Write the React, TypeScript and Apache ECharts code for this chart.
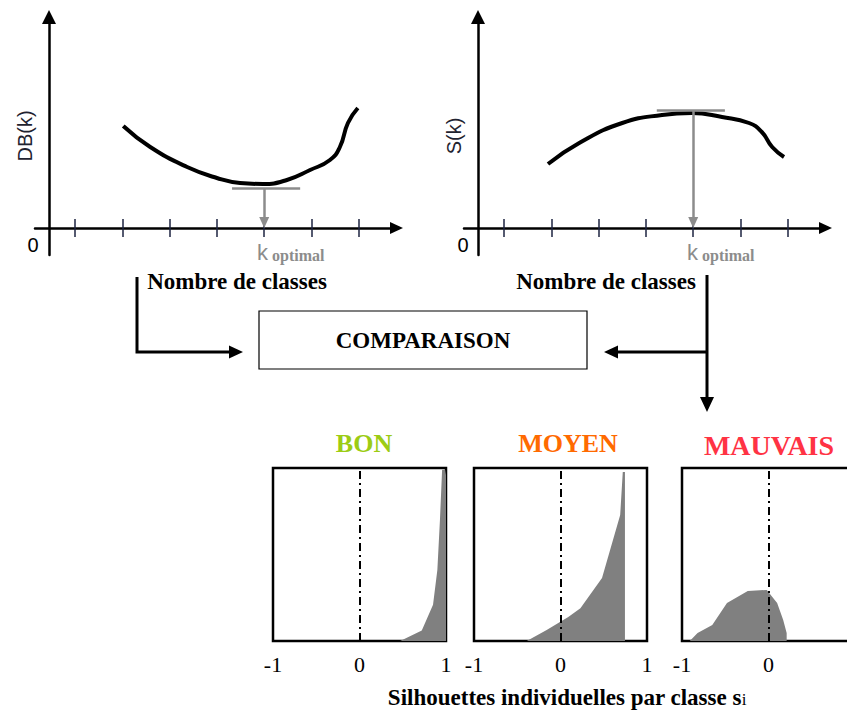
import React, { useEffect, useRef } from "react";
import * as echarts from "echarts";

// ---- Data ----
const kTicks = [1, 2, 3, 4, 5, 6, 7];
const kOptimal = 5;
const kRange = [0.154, 7.797];

const dbK = [2.02, 2.59, 3.37, 4.0, 4.49, 4.97, 5.48, 5.97, 6.39, 6.6, 6.77, 6.98];
const dbValues = [1.02, 0.81, 0.61, 0.5, 0.45, 0.44, 0.48, 0.58, 0.68, 0.81, 1.05, 1.2];
const dbGuideLevel = 0.4;
const dbGuideSpan = [4.32, 5.76];

const sK = [1.93, 2.59, 3.5, 4.34, 4.97, 5.61, 6.18, 6.45, 6.67, 6.92];
const sValues = [0.64, 0.85, 1.05, 1.13, 1.15, 1.11, 1.05, 0.96, 0.81, 0.71];
const sGuideLevel = 1.18;
const sGuideSpan = [4.23, 5.67];

const silTicks = [-1, 0, 1];
const bonS = [0.47, 0.72, 0.85, 0.9, 0.93, 0.955, 0.99, 1.0];
const bonF = [0, 0.06, 0.21, 0.41, 0.7, 0.99, 0.99, 0.96];
const moyenS = [-0.39, -0.16, 0.09, 0.23, 0.48, 0.69, 0.72, 0.745, 0.745];
const moyenF = [0, 0.064, 0.139, 0.19, 0.364, 0.728, 0.977, 0.977, 0];
const mauvaisS = [-0.91, -0.82, -0.65, -0.48, -0.24, -0.02, 0.1, 0.17, 0.21, 0.21];
const mauvaisF = [0, 0.046, 0.092, 0.22, 0.289, 0.295, 0.22, 0.121, 0.046, 0];

const SANS = "Liberation Sans";
const SERIF = "Liberation Serif";
const GRAY = "#8c8c8c";

function kAxes(gridIndex: number) {
  const common = {
    type: "value",
    gridIndex,
    min: kRange[0],
    max: kRange[1],
    splitLine: { show: false },
  };
  return [
    {
      ...common,
      position: "bottom",
      axisLine: {
        show: true,
        onZero: true,
        lineStyle: { color: "#000", width: 2.5 },
        symbol: ["none", "triangle"],
        symbolSize: [12, 13],
      },
      axisTick: {
        show: true,
        customValues: kTicks,
        length: 9,
        lineStyle: { color: "#1c2340", width: 1.5 },
      },
      axisLabel: { show: false },
    },
    {
      ...common,
      position: "top",
      offset: -211,
      axisLine: { show: false, onZero: false },
      axisTick: {
        show: true,
        customValues: kTicks,
        length: 9,
        lineStyle: { color: "#1c2340", width: 1.5 },
      },
      axisLabel: { show: false },
    },
  ];
}

function kYAxis(gridIndex: number, name: string) {
  return {
    type: "value",
    gridIndex,
    min: -0.27,
    max: 2.11,
    position: "left",
    offset: -14,
    axisLine: {
      show: true,
      onZero: false,
      lineStyle: { color: "#000", width: 2.5 },
      symbol: ["none", "triangle"],
      symbolSize: [14, 14],
    },
    axisTick: { show: false },
    axisLabel: { show: false },
    splitLine: { show: false },
    name,
    nameLocation: "middle",
    nameRotate: 90,
    nameGap: 14,
    nameTextStyle: { fontFamily: SANS, fontSize: 20, color: "#1f2330" },
  };
}

function silAxis(gridIndex: number) {
  return {
    type: "value",
    gridIndex,
    min: -1,
    max: 1,
    axisLine: { show: false, onZero: false },
    axisTick: { show: false },
    splitLine: { show: false },
    axisLabel: {
      show: true,
      customValues: silTicks,
      fontFamily: SERIF,
      fontSize: 22,
      color: "#000",
      margin: 12,
    },
  };
}

function silYAxis(gridIndex: number) {
  return { type: "value", gridIndex, min: 0, max: 1, show: false };
}

function curveSeries(idx: number, ks: number[], vals: number[], level: number, span: number[]) {
  return {
    type: "line",
    xAxisIndex: idx * 2,
    yAxisIndex: idx,
    data: ks.map((k, i) => [k, vals[i]]),
    smooth: 0.5,
    symbol: "none",
    lineStyle: { color: "#000", width: 4 },
    markLine: {
      silent: true,
      symbol: ["none", "none"],
      label: { show: false },
      lineStyle: { color: GRAY, width: 2.5, type: "solid" },
      data: [
        [
          { coord: [span[0], level], symbol: "none" },
          { coord: [span[1], level], symbol: "none" },
        ],
        [
          { coord: [kOptimal, level], symbol: "none" },
          { coord: [kOptimal, 0.055], symbol: "triangle", symbolSize: [10, 11] },
        ],
      ],
    },
  };
}

function silSeries(idx: number, xs: number[], fs: number[]) {
  return {
    type: "line",
    xAxisIndex: 4 + idx,
    yAxisIndex: 2 + idx,
    data: xs.map((x, i) => [x, fs[i]]),
    symbol: "none",
    lineStyle: { width: 0, color: "#808080" },
    areaStyle: { color: "#808080", opacity: 1 },
    markLine: {
      silent: true,
      symbol: ["none", "none"],
      label: { show: false },
      lineStyle: { color: "#000", width: 2, type: [8, 4, 2, 4] },
      data: [{ xAxis: 0 }],
    },
  };
}

const txt = (text: string, x: number, y: number, s: any) => ({
  type: "text",
  x,
  y,
  style: { text, align: "center", verticalAlign: "middle", fill: "#000", ...s },
});

const kOptLabel = (x: number) => ({
  type: "text",
  x,
  y: 252,
  style: {
    text: "{k|k}{o|optimal}",
    align: "left",
    verticalAlign: "middle",
    rich: {
      k: { fontFamily: SANS, fontSize: 22, fill: GRAY, color: GRAY, verticalAlign: "bottom" },
      o: {
        fontFamily: SERIF,
        fontWeight: "bold",
        fontSize: 16,
        fill: GRAY,
        color: GRAY,
        verticalAlign: "bottom",
        padding: [0, 0, 0, 4],
      },
    },
  },
});

export default function App() {
  const ref = useRef<HTMLDivElement>(null);
  useEffect(() => {
    if (!ref.current) return;
    const chart = echarts.init(ref.current, null, { renderer: "svg" });
    const boxGrid = {
      top: 468,
      width: 173,
      height: 173,
      show: true,
      borderColor: "#000",
      borderWidth: 2.5,
      backgroundColor: "transparent",
      outerBoundsMode: "none",
    };
    const boldSerif = { fontFamily: SERIF, fontWeight: "bold", fontSize: 23 };
    const option: any = {
      animation: false,
      backgroundColor: "#fff",
      grid: [
        { left: 35, top: 17, width: 361.5, height: 238, outerBoundsMode: "none" },
        { left: 464, top: 17, width: 361.5, height: 238, outerBoundsMode: "none" },
        { ...boxGrid, left: 273 },
        { ...boxGrid, left: 474 },
        { ...boxGrid, left: 682 },
      ],
      xAxis: [...kAxes(0), ...kAxes(1), silAxis(2), silAxis(3), silAxis(4)],
      yAxis: [kYAxis(0, "DB(k)"), kYAxis(1, "S(k)"), silYAxis(2), silYAxis(3), silYAxis(4)],
      series: [
        curveSeries(0, dbK, dbValues, dbGuideLevel, dbGuideSpan),
        curveSeries(1, sK, sValues, sGuideLevel, sGuideSpan),
        silSeries(0, bonS, bonF),
        silSeries(1, moyenS, moyenF),
        silSeries(2, mauvaisS, mauvaisF),
      ],
      graphic: [
        txt("0", 33, 245, { fontFamily: SANS, fontSize: 20 }),
        txt("0", 463, 245, { fontFamily: SANS, fontSize: 20 }),
        kOptLabel(257),
        kOptLabel(687),
        txt("Nombre de classes", 237, 281, boldSerif),
        txt("Nombre de classes", 606, 281, boldSerif),
        {
          type: "rect",
          shape: { x: 259, y: 311, width: 328, height: 58 },
          style: { fill: "#fff", stroke: "#000", lineWidth: 1.2 },
        },
        txt("COMPARAISON", 423, 340, boldSerif),
        {
          type: "polyline",
          shape: { points: [[137, 277], [137, 352], [231, 352]] },
          style: { stroke: "#000", lineWidth: 3, fill: null },
        },
        { type: "polygon", shape: { points: [[229, 345.5], [243, 352], [229, 358.5]] }, style: { fill: "#000" } },
        {
          type: "polyline",
          shape: { points: [[707, 275], [707, 399]] },
          style: { stroke: "#000", lineWidth: 3, fill: null },
        },
        { type: "polygon", shape: { points: [[700, 397], [714, 397], [707, 412]] }, style: { fill: "#000" } },
        {
          type: "polyline",
          shape: { points: [[707, 352], [616, 352]] },
          style: { stroke: "#000", lineWidth: 3, fill: null },
        },
        { type: "polygon", shape: { points: [[618, 345.5], [604, 352], [618, 358.5]] }, style: { fill: "#000" } },
        txt("BON", 364, 443, { fontFamily: SERIF, fontWeight: "bold", fontSize: 26, fill: "#9ccc14" }),
        txt("MOYEN", 568, 443, { fontFamily: SERIF, fontWeight: "bold", fontSize: 26, fill: "#ff6a00" }),
        txt("MAUVAIS", 769, 445, { fontFamily: SERIF, fontWeight: "bold", fontSize: 28, fill: "#ff3344" }),
        {
          type: "text",
          x: 567,
          y: 697,
          style: {
            text: "{b|Silhouettes individuelles par classe s}{r|i}",
            align: "center",
            verticalAlign: "middle",
            rich: {
              b: {
                fontFamily: SERIF,
                fontWeight: "bold",
                fontSize: 23,
                fill: "#000",
                color: "#000",
                verticalAlign: "bottom",
              },
              r: {
                fontFamily: SERIF,
                fontSize: 17,
                fill: "#000",
                color: "#000",
                verticalAlign: "bottom",
                padding: [0, 0, 1, 0],
              },
            },
          },
        },
      ],
    };
    chart.setOption(option);
    return () => chart.dispose();
  }, []);
  return (
    <div
      ref={ref}
      style={{ position: "fixed", left: 0, top: 0, width: 847, height: 713, background: "#fff" }}
    />
  );
}
